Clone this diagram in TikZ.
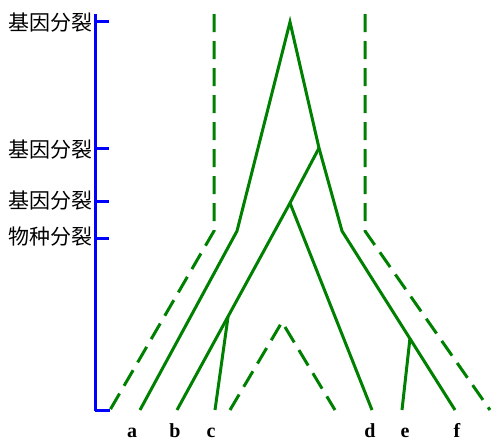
\documentclass[tikz,border=0pt]{standalone}
\usepackage{fontspec}
\setmainfont{Liberation Serif}
\newfontfamily\cjk{Noto Sans CJK SC}
\begin{document}
\begin{tikzpicture}[
  x=1pt, y=-1pt,
  every node/.style={inner sep=0pt, text=black},
  leaf/.style={anchor=base, font=\bfseries\fontsize{20}{20}\selectfont},
  event/.style={anchor=east, font=\cjk\fontsize{21}{21}\selectfont},
  axis/.style={draw=blue, line width=3pt},
  gene/.style={draw=green!50!black, line width=3pt},
  lost/.style={gene, dash pattern=on 18pt off 9pt}
]
  \useasboundingbox (0,0) rectangle (500,442);

  % time axis with its events
  \coordinate (top) at (95,14);
  \coordinate (bot) at (95,411);
  \coordinate (botend) at (110,410);
  \draw[axis] (top) -- (bot);
  \draw[axis] (95,410) -- (botend);
  \foreach \y/\n in {21/1,148/2,201/3,238/4} {
    \coordinate (t\n) at (95,\y);
    \coordinate (u\n) at (109,\y);
    \draw[axis] (t\n) -- (u\n);
  }
  \node[event] (ev1) at (93,23) {基因分裂};
  \node[event] (ev2) at (93,150) {基因分裂};
  \node[event] (ev3) at (93,201) {基因分裂};
  \node[event] (ev4) at (93,237) {物种分裂};

  % gene tree
  \coordinate (root) at (290,22);
  \coordinate (lbend) at (237,231);
  \coordinate (rsplit) at (319,148);
  \coordinate (rbend) at (342,231);
  \coordinate (msplit) at (290,203);
  \coordinate (csplit) at (228,317);
  \coordinate (esplit) at (410,338);
  \coordinate (eb) at (140,410);
  \coordinate (ec1) at (177,410);
  \coordinate (ec2) at (215,410);
  \coordinate (ed) at (372,410);
  \coordinate (ee) at (402,410);
  \coordinate (ef) at (455,410);
  \draw[gene] (eb) -- (lbend) -- (root) -- (rsplit) -- (rbend) -- (ef);
  \draw[gene] (rsplit) -- (msplit) -- (ec1);
  \draw[gene] (msplit) -- (ed);
  \draw[gene] (csplit) -- (ec2);
  \draw[gene] (esplit) -- (ee);

  % lost copies
  \coordinate (ltop) at (214,14);
  \coordinate (lcorner) at (214,231);
  \coordinate (ea) at (110,410);
  \coordinate (rtop) at (365,14);
  \coordinate (rcorner) at (365,231);
  \coordinate (eg) at (490,410);
  \coordinate (mtop) at (282,322);
  \coordinate (ml) at (230,410);
  \coordinate (mr) at (335,410);
  \draw[lost] (ltop) -- (lcorner) -- (ea);
  \draw[lost] (rtop) -- (rcorner) -- (eg);
  \draw[lost] (ml) -- (mtop) -- (mr);

  % leaf labels
  \node[leaf] (la) at (132,437) {a};
  \node[leaf] (lb) at (175,437) {b};
  \node[leaf] (lc) at (211,437) {c};
  \node[leaf] (ld) at (370,437) {d};
  \node[leaf] (le) at (405,437) {e};
  \node[leaf] (lf) at (457,437) {f};
\end{tikzpicture}
\end{document}
